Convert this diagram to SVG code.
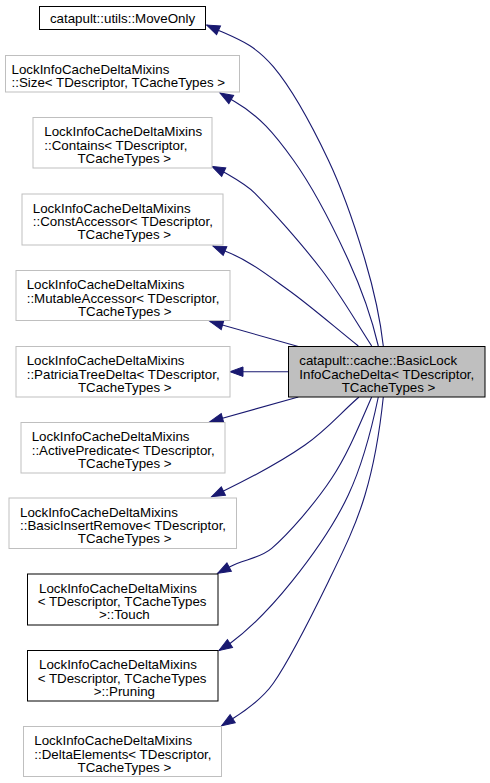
<svg xmlns="http://www.w3.org/2000/svg" width="490" height="783" viewBox="0 0 490 783">
<style>
text{font-family:"Liberation Sans",Arial,Helvetica,sans-serif;font-size:13.33px;fill:#000}
.n rect{fill:#fff;stroke:#bfbfbf;stroke-width:1}
.d rect{stroke:#000}
.m rect{fill:#bfbfbf;stroke:#000}
.c{text-anchor:middle}
#edges path{fill:none;stroke:#191970;stroke-width:1.1;marker-end:url(#ah)}
</style>
<defs>
<marker id="ah" markerUnits="userSpaceOnUse" markerWidth="14" markerHeight="10" refX="13" refY="4.75" orient="auto" viewBox="0 0 14 10" overflow="visible">
<path d="M0,0 L13,4.75 L0,9.5 z" fill="#191970" stroke="#191970" stroke-width="1"/>
</marker>
</defs>
<rect width="490" height="783" fill="#fff"/>
<g id="edges">
<path d="M383.3,346 C380,317 374.2,291 365,260 C355.8,229 343.6,192.2 328.3,160 C313,127.8 291.5,88.3 273.3,66.7 C255.1,45.1 239.1,39.6 219.3,30.7 L206.7,25"/>
<path d="M378.3,346 C371.7,317.8 362.5,291 348.3,260 C334.1,229 312.2,186.4 293.3,160 C274.4,133.6 259,115.6 235,101.7 L220,93"/>
<path d="M371.7,346 C355.2,320.6 341.2,295.5 321.7,270 C302.2,244.5 271.1,209.5 255,193.3 C246.5,184.8 235.4,178.7 225,172.7 L212,166.5"/>
<path d="M358.3,346 C334.9,327.3 310.2,305.7 288.3,290 C266.4,274.3 248.7,260.4 226.7,251.7 L213,246"/>
<path d="M298.3,346.5 L210,321.5"/>
<path d="M288.5,371.7 L230,371.7"/>
<path d="M298.3,397 L210,421.7"/>
<path d="M359,397 C340.5,413 327.4,429.4 305,445 C282.6,460.6 251.2,477.5 224.5,490.5 L211.7,496.7"/>
<path d="M371.7,397 C359.7,424.2 348.4,453 331.7,478.3 C315,503.6 288.7,533.6 271.7,548.3 C260.1,558.3 243.5,559.5 230,566.7 L217.7,573.3"/>
<path d="M378.3,397 C371.5,429.7 362.7,464.2 348.3,495 C333.9,525.8 311.4,557.1 291.7,581.7 C272,606.3 253.2,626.3 230,643.5 L219,650.5"/>
<path d="M383.3,397 C379.9,429.5 374.2,464.2 365,495 C355.8,525.8 343.6,550.3 328.3,581.7 C313,613.1 289.1,660.5 273.3,683.3 C263.2,697.8 248.2,708.8 233.3,718.3 L221.7,725.7"/>
</g>
<g id="main" class="n m">
<rect x="288.5" y="346.5" width="196.5" height="50.5"/>
<text><tspan x="299.3" y="365.2">catapult::cache::BasicLock</tspan><tspan x="299.3" y="378.5">InfoCacheDelta&lt; TDescriptor,</tspan><tspan class="c" x="388.5" y="391.8">TCacheTypes &gt;</tspan></text>
</g>
<g id="moveonly" class="n d">
<rect x="39.5" y="6.5" width="166" height="23"/>
<text class="c" x="122.5" y="22.5">catapult::utils::MoveOnly</text>
</g>
<g id="size" class="n">
<rect x="5.5" y="55.5" width="234" height="36.5"/>
<text><tspan x="11.5" y="74">LockInfoCacheDeltaMixins</tspan><tspan x="11.5" y="87.3">::Size&lt; TDescriptor, TCacheTypes &gt;</tspan></text>
</g>
<g id="contains" class="n">
<rect x="33" y="117.5" width="179" height="50.5"/>
<text><tspan x="44.3" y="136.2">LockInfoCacheDeltaMixins</tspan><tspan x="44.3" y="149.5">::Contains&lt; TDescriptor,</tspan><tspan class="c" x="124.3" y="162.8">TCacheTypes &gt;</tspan></text>
</g>
<g id="constaccessor" class="n">
<rect x="22" y="194" width="201" height="51"/>
<text><tspan x="32.8" y="212.7">LockInfoCacheDeltaMixins</tspan><tspan x="32.8" y="226">::ConstAccessor&lt; TDescriptor,</tspan><tspan class="c" x="124.3" y="239.3">TCacheTypes &gt;</tspan></text>
</g>
<g id="mutableaccessor" class="n">
<rect x="16" y="270.5" width="214" height="50"/>
<text><tspan x="26.7" y="289.2">LockInfoCacheDeltaMixins</tspan><tspan x="26.7" y="302.5">::MutableAccessor&lt; TDescriptor,</tspan><tspan class="c" x="124.8" y="315.8">TCacheTypes &gt;</tspan></text>
</g>
<g id="patriciatreedelta" class="n">
<rect x="16" y="346.5" width="214" height="50.5"/>
<text><tspan x="26.7" y="365.2">LockInfoCacheDeltaMixins</tspan><tspan x="26.7" y="378.5">::PatriciaTreeDelta&lt; TDescriptor,</tspan><tspan class="c" x="124.8" y="391.8">TCacheTypes &gt;</tspan></text>
</g>
<g id="activepredicate" class="n">
<rect x="21" y="422.5" width="204" height="50.5"/>
<text><tspan x="31.7" y="441.2">LockInfoCacheDeltaMixins</tspan><tspan x="31.7" y="454.5">::ActivePredicate&lt; TDescriptor,</tspan><tspan class="c" x="124.8" y="467.8">TCacheTypes &gt;</tspan></text>
</g>
<g id="basicinsertremove" class="n">
<rect x="9" y="498" width="227.5" height="50.5"/>
<text><tspan x="20" y="516.7">LockInfoCacheDeltaMixins</tspan><tspan x="20" y="530">::BasicInsertRemove&lt; TDescriptor,</tspan><tspan class="c" x="124.6" y="543.3">TCacheTypes &gt;</tspan></text>
</g>
<g id="touch" class="n d">
<rect x="27.5" y="574" width="190.5" height="51"/>
<text><tspan x="39" y="592.7">LockInfoCacheDeltaMixins</tspan><tspan x="37.7" y="606">&lt; TDescriptor, TCacheTypes</tspan><tspan class="c" x="124.4" y="619.3">&gt;::Touch</tspan></text>
</g>
<g id="pruning" class="n d">
<rect x="27.5" y="650.5" width="190.5" height="50.5"/>
<text><tspan x="39" y="669.2">LockInfoCacheDeltaMixins</tspan><tspan x="37.7" y="682.5">&lt; TDescriptor, TCacheTypes</tspan><tspan class="c" x="124.4" y="695.8">&gt;::Pruning</tspan></text>
</g>
<g id="deltaelements" class="n">
<rect x="23.5" y="726.5" width="198" height="50"/>
<text><tspan x="34.3" y="745.2">LockInfoCacheDeltaMixins</tspan><tspan x="34.3" y="758.5">::DeltaElements&lt; TDescriptor,</tspan><tspan class="c" x="124.4" y="771.8">TCacheTypes &gt;</tspan></text>
</g>
</svg>
